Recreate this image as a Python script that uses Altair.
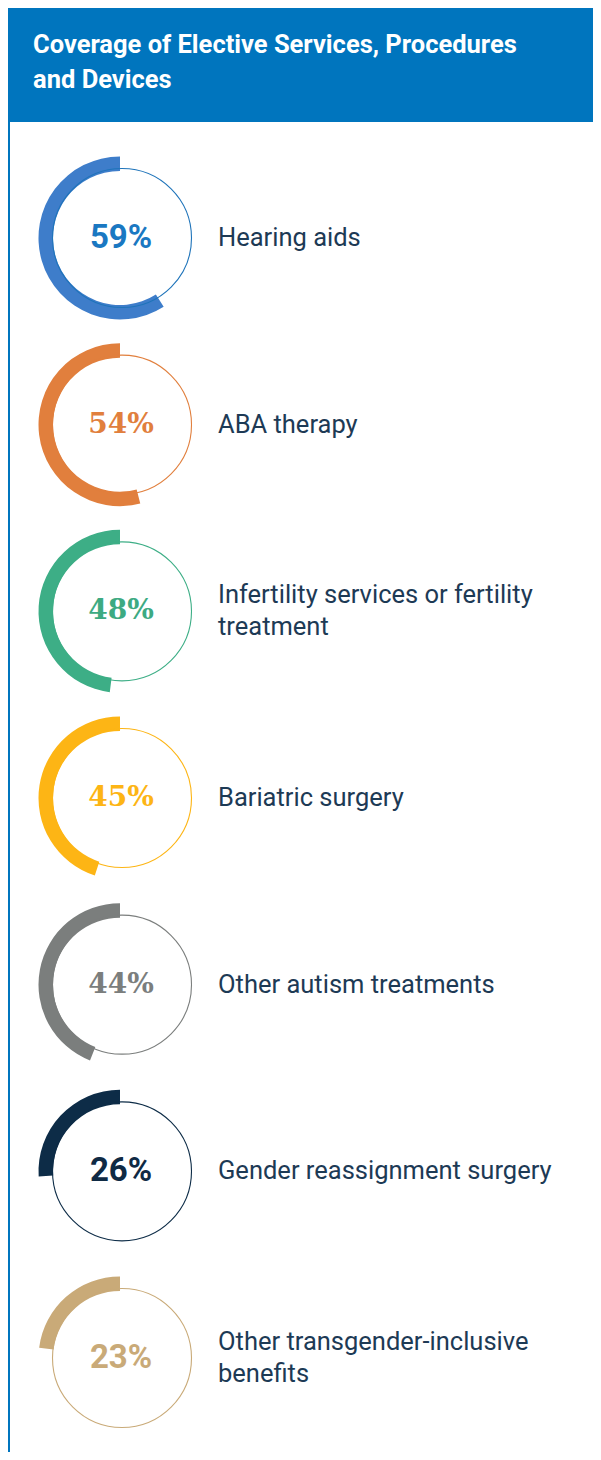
import math
import altair as alt
import pandas as pd

# ---- data ----
categories = ["Hearing aids", "ABA therapy", "Infertility", "Bariatric surgery",
              "Other autism treatments", "Gender reassignment surgery", "Other transgender"]
labels = ["Hearing aids", "ABA therapy", "Infertility services or fertility\ntreatment",
          "Bariatric surgery", "Other autism treatments", "Gender reassignment surgery",
          "Other transgender-inclusive\nbenefits"]
values = [59, 54, 48, 45, 44, 26, 23]
arc_colors = ["#3E7DCA", "#E17F3D", "#3DAE86", "#FDB515", "#7B7E7D", "#0D2C47", "#C9AA78"]
ring_colors = ["#1F74BA", "#E17F3D", "#3DAE86", "#FDB515", "#7B7E7D", "#0D2C47", "#C9AA78"]
text_colors = ["#1A78C2", "#E17F3D", "#3DAA82", "#FDB515", "#7B7E7D", "#0F2A44", "#C9AA78"]
slab_font = [False, True, True, True, True, False, False]

title_lines = ["Coverage of Elective Services, Procedures", "and Devices"]

df = pd.DataFrame({
    "cat": categories,
    "label": labels,
    "value": values,
    "arc_color": arc_colors,
    "ring_color": ring_colors,
    "text_color": text_colors,
    "slab": slab_font,
})
df["pct"] = df["value"].astype(str) + "%"
df["theta"] = -2 * math.pi * df["value"] / 100.0
df["theta2"] = 0.0
df["multi"] = df["label"].str.contains("\n")

W, H = 585, 1444
CX = 112
HEADER_BLUE = "#0075BE"

yscale = alt.Scale(type="point", domain=categories, range=[230, 1350], padding=0)
Y = alt.Y("cat:N", scale=yscale, axis=None)

base = alt.Chart(df)

arcs = base.mark_arc(radius=81.5, radius2=67).encode(
    x=alt.value(CX),
    y=Y,
    theta=alt.Theta("theta:Q", scale=None, stack=False),
    theta2="theta2:Q",
    color=alt.Color("arc_color:N", scale=None),
)

rings = base.mark_point(shape="circle", size=139 * 139, filled=False, strokeWidth=1.1, opacity=1).encode(
    x=alt.value(CX + 2),
    y=Y,
    color=alt.Color("ring_color:N", scale=None),
)

pct_sans = base.transform_filter("!datum.slab").mark_text(
    font="Roboto", fontSize=33, fontWeight="bold", align="center", baseline="middle", dx=1
).encode(
    x=alt.value(CX),
    y=Y,
    text="pct:N",
    color=alt.Color("text_color:N", scale=None),
)

pct_slab = base.transform_filter("datum.slab").mark_text(
    font="DejaVu Serif", fontSize=28, fontWeight="bold", align="center", baseline="middle", dx=1
).encode(
    x=alt.value(CX),
    y=Y,
    text="pct:N",
    color=alt.Color("text_color:N", scale=None),
)

names_single = base.transform_filter("!datum.multi").mark_text(
    font="Roboto", fontSize=25.5, align="left", baseline="middle", color="#1D3A55"
).encode(
    x=alt.value(210),
    y=Y,
    text="label:N",
)

names_multi = base.transform_filter("datum.multi").mark_text(
    font="Roboto", fontSize=25.5, align="left", baseline="middle", lineBreak="\n",
    lineHeight=32, color="#1D3A55", dy=-16
).encode(
    x=alt.value(210),
    y=Y,
    text="label:N",
)

header_df = pd.DataFrame({"line": title_lines, "i": list(range(len(title_lines)))})
header = alt.Chart(header_df).transform_filter("datum.i == 0").mark_rect(color=HEADER_BLUE).encode(
    x=alt.value(0), x2=alt.value(W), y=alt.value(-2), y2=alt.value(114)
)
border = alt.Chart(header_df).transform_filter("datum.i == 0").mark_rect(color=HEADER_BLUE).encode(
    x=alt.value(0), x2=alt.value(2), y=alt.value(114), y2=alt.value(H)
)
title = alt.Chart(header_df).mark_text(
    font="Roboto", fontSize=25.5, fontWeight="bold", color="white", align="left", baseline="middle"
).encode(
    x=alt.value(25),
    y=alt.Y("i:O", scale=alt.Scale(type="point", range=[37, 72], padding=0), axis=None),
    text="line:N",
)

chart = alt.layer(header, border, title, arcs, rings, pct_sans, pct_slab, names_single, names_multi).resolve_scale(
    y="independent"
).properties(
    width=W, height=H, padding=0, autosize=alt.AutoSizeParams(type="none")
).configure_view(stroke=None)

chart.save("out.html", embed_options={"renderer": "svg", "actions": False})
